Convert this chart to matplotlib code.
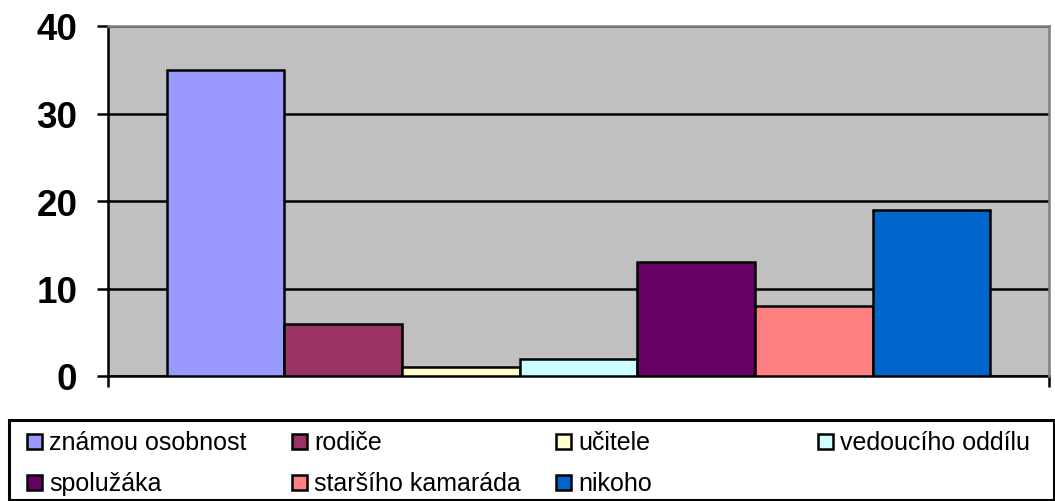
import matplotlib
matplotlib.use("Agg")
import matplotlib.pyplot as plt
from matplotlib.patches import Rectangle

# data
labels = ["známou osobnost", "rodiče", "učitele", "vedoucího oddílu",
          "spolužáka", "staršího kamaráda", "nikoho"]
values = [35, 6, 1, 2, 13, 8, 19]
colors = ["#9999FF", "#993366", "#FFFFCC", "#CCFFFF", "#660066", "#FF8080", "#0066CC"]
yticks = [0, 10, 20, 30, 40]

plt.rcParams["font.family"] = ["Liberation Sans", "DejaVu Sans"]

W, H = 1055, 502
fig = plt.figure(figsize=(W / 100, H / 100), dpi=100)

# plot area in pixels: left 108, right 1049, top 27, bottom 377
ax = fig.add_axes([108 / W, (H - 377) / H, (1049 - 108) / W, (377 - 27) / H])
ax.set_facecolor("#C0C0C0")
xs = [0.5 + i for i in range(len(values))]
ax.bar(xs, values, width=1.0, align="edge", color=colors,
       edgecolor="black", linewidth=1.8, zorder=3)
ax.set_xlim(0, len(values) + 1)
ax.set_ylim(0, 40)
ax.set_yticks(yticks)
ax.set_yticklabels([str(t) for t in yticks], fontsize=26.5, fontweight="bold")
ax.set_xticks([0, len(values) + 1])
ax.set_xticklabels([])
ax.tick_params(axis="both", direction="out", length=8, width=1.8, color="black")
ax.tick_params(axis="y", pad=14)
ax.yaxis.grid(True, color="black", linewidth=1.8)
ax.set_axisbelow(True)
for side in ["left", "bottom"]:
    ax.spines[side].set_color("black")
    ax.spines[side].set_linewidth(1.8)
for side in ["top", "right"]:
    ax.spines[side].set_color("#808080")
    ax.spines[side].set_linewidth(1.8)
    ax.spines[side].set_zorder(4)

# legend box drawn in pixel coordinates
lax = fig.add_axes([0, 0, 1, 1])
lax.set_xlim(0, W)
lax.set_ylim(H, 0)
lax.axis("off")
lax.add_patch(Rectangle((9, 421), 1045, 80, fill=False, edgecolor="black", linewidth=2.2))
col_x = [27, 292, 556, 818]
row_y = [442, 483]
for i, (lab, c) in enumerate(zip(labels, colors)):
    x = col_x[i % 4]
    y = row_y[i // 4]
    lax.add_patch(Rectangle((x, y - 7.5), 15, 15, facecolor=c, edgecolor="black", linewidth=1.8))
    lax.text(x + 22, y + 1, lab, fontsize=18, va="center", ha="left")

fig.savefig("out.png", dpi=100)
